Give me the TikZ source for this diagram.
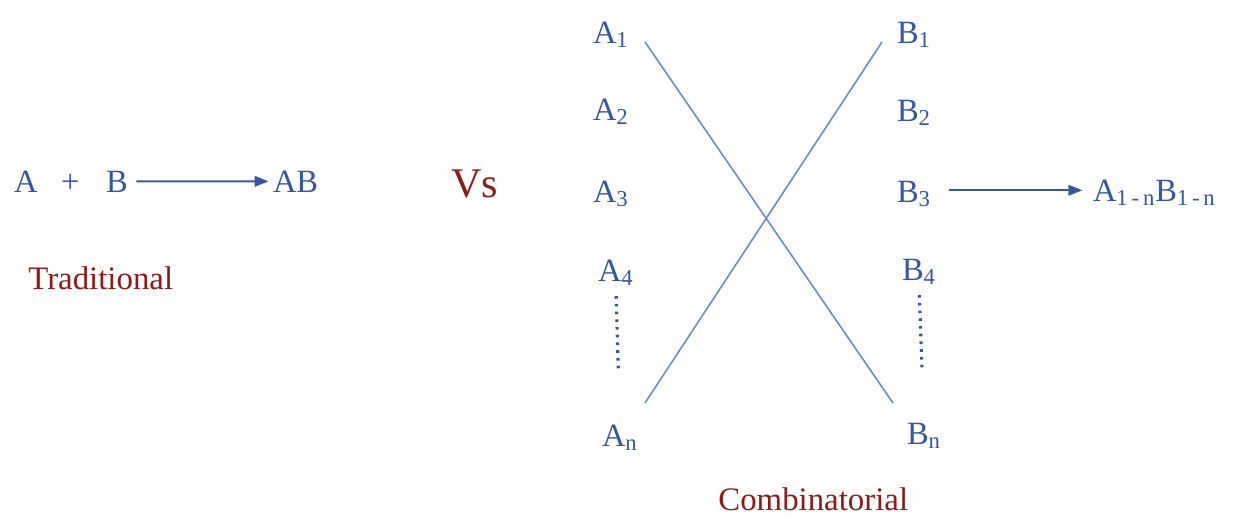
\documentclass[tikz,border=0pt]{standalone}
\usepackage{fontspec}
\setmainfont{Liberation Serif}
\usepackage{tikz}
\usetikzlibrary{arrows.meta, positioning, calc}
\definecolor{ItemBlue}{HTML}{3557A0}
\definecolor{LineBlue}{HTML}{6A8AC8}
\definecolor{TitleRed}{HTML}{8C1C1C}

\begin{document}
\begin{tikzpicture}[x=0.02cm, y=-0.02cm,
    item/.style={anchor=base west, inner sep=0pt, outer sep=0pt, text=ItemBlue, font=\fontsize{18.5}{22}\selectfont},
    caption/.style={anchor=base west, inner sep=0pt, text=TitleRed, font=\fontsize{18.7}{22}\selectfont},
    reacts/.style={draw=ItemBlue, line width=1.1pt, -{Triangle[length=8pt, width=6pt]}},
    cross/.style={draw=LineBlue, line width=0.9pt},
    more/.style={draw=ItemBlue, line width=1.8pt, dash pattern=on 1.5pt off 2.9pt}]
                    \useasboundingbox (0,0) rectangle (1242,522);
                    % traditional
                    \node[item] (a) at (14,192) {A};
                    \node[item] (plus) at (61,192) {+};
                    \node[item] (b) at (106,192) {B};
                    \node[item] (ab) at (273,192) {AB};
                    \draw[reacts, shorten <=5pt, shorten >=2.5pt] (b.east) -- (ab.west);
                    \node[caption] (trad) at (28,289) {Traditional};
                    \node[anchor=base west, inner sep=0pt, text=TitleRed, font=\fontsize{24}{28}\selectfont] (vs) at (451,197) {Vs};
                    % combinatorial
                    \node[item] (A1) at (593,43) {A\textsubscript{1}};
                    \node[item] (A2) at (593,120) {A\textsubscript{2}};
                    \node[item] (A3) at (593,202) {A\textsubscript{3}};
                    \node[item] (A4) at (598,281) {A\textsubscript{4}};
                    \node[item] (An) at (602,446) {A\textsubscript{n}};
                    \node[item] (B1) at (897,43) {B\textsubscript{1}};
                    \node[item] (B2) at (897,121) {B\textsubscript{2}};
                    \node[item] (B3) at (897,202) {B\textsubscript{3}};
                    \node[item] (B4) at (902,280) {B\textsubscript{4}};
                    \node[item] (Bn) at (907,444) {B\textsubscript{n}};
                    \node[item] (ABn) at (1093,201) {A\textsubscript{1\,-\,n}B\textsubscript{1\,-\,n}};
                    \draw[more, shorten <=6pt, shorten >=32pt] (A4.south) -- (An.north);
                    \draw[more, shorten <=6pt, shorten >=30pt] (B4.south) -- (Bn.north);
                    \coordinate (topA) at (645,42);
                    \coordinate (botA) at (645,403);
                    \coordinate (topB) at (882,42);
                    \coordinate (botB) at (893,403);
                    \draw[cross] (topA) -- (botB);
                    \draw[cross] (botA) -- (topB);
                    \draw[reacts, shorten <=10pt, shorten >=6pt] ([yshift=2pt]B3.east) -- ([yshift=2pt]B3.east -| ABn.west);
                    \node[caption] (comb) at (718,510) {Combinatorial};
                \end{tikzpicture}
\end{document}
